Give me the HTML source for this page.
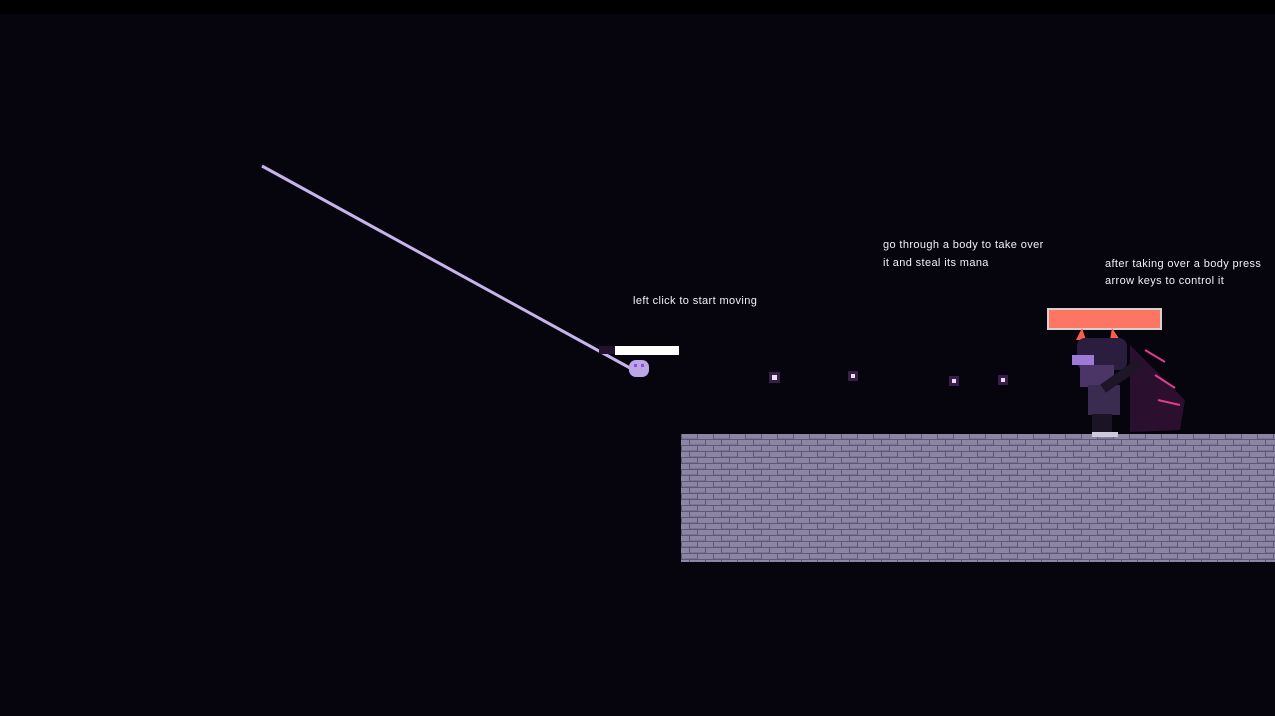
<!DOCTYPE html>
<html><head><meta charset="utf-8"><style>
html,body{margin:0;padding:0;background:#06040d;width:1275px;height:716px;overflow:hidden}
svg{display:block}
text{font-family:"Liberation Sans",sans-serif;font-size:11px;fill:#f2f0f5;letter-spacing:0.38px}
</style></head><body>
<svg width="1275" height="716" xmlns="http://www.w3.org/2000/svg">
<defs>
<pattern id="br" width="32" height="12" patternUnits="userSpaceOnUse" x="681" y="434">
<rect width="32" height="12" fill="#8c86a3"/>
<rect y="5" width="32" height="1" fill="#5e5879"/>
<rect y="11" width="32" height="1" fill="#5e5879"/>
<rect x="0" y="0" width="1" height="5" fill="#5e5879"/>
<rect x="16" y="0" width="1" height="5" fill="#5e5879"/>
<rect x="8" y="6" width="1" height="5" fill="#5e5879"/>
<rect x="24" y="6" width="1" height="5" fill="#5e5879"/>
<rect x="1" y="4" width="15" height="1" fill="#7a7394"/>
<rect x="9" y="10" width="15" height="1" fill="#7a7394"/>
</pattern>
</defs>
<rect width="1275" height="14" fill="#000"/>
<line x1="262" y1="166" x2="630" y2="368" stroke="#c7b5ea" stroke-width="3"/>
<rect x="599" y="346" width="16" height="8" fill="#22122f"/>
<rect x="615" y="346" width="64" height="9" fill="#fff"/>
<rect x="629" y="360" width="20" height="17" rx="7" fill="#bba7e6"/>
<rect x="634" y="364" width="3" height="3" fill="#8a4fd8"/>
<rect x="641" y="364" width="3" height="3" fill="#8a4fd8"/>
<g fill="#3a1e4a"><rect x="769" y="372" width="11" height="11"/><rect x="848" y="371" width="10" height="10"/><rect x="949" y="376" width="10" height="10"/><rect x="998" y="375" width="10" height="10"/></g>
<g fill="#e8e0f0"><rect x="772" y="375" width="5" height="5"/><rect x="851" y="374" width="4" height="4"/><rect x="952" y="379" width="4" height="4"/><rect x="1001" y="378" width="4" height="4"/></g>
<text x="633" y="304">left click to start moving</text>
<text x="883" y="248">go through a body to take over</text>
<text x="883" y="266">it and steal its mana</text>
<text x="1105" y="267">after taking over a body press</text>
<text x="1105" y="284">arrow keys to control it</text>
<rect x="681" y="434" width="594" height="128" fill="url(#br)"/>
<rect x="1048" y="309" width="113" height="20" fill="#ff7563" stroke="#d8d0d0" stroke-width="2"/>
<path d="M1130 345 L1185 400 L1180 430 L1130 432 Z" fill="#2a0f2e"/>
<g stroke="#e03c8c" stroke-width="2" fill="none"><path d="M1145 350 L1165 362"/><path d="M1155 375 L1175 388"/><path d="M1158 400 L1180 405"/></g>
<polygon points="1076,340 1082,328 1086,340" fill="#ff5d4e"/>
<polygon points="1110,340 1112,328 1120,340" fill="#ff5d4e"/>
<rect x="1077" y="338" width="50" height="32" rx="8" fill="#2a1d3e"/>
<rect x="1072" y="355" width="22" height="10" fill="#9d7ad8"/>
<rect x="1080" y="365" width="34" height="22" fill="#4a3566"/>
<rect x="1088" y="385" width="32" height="30" fill="#3a2c50"/>
<rect x="1100" y="372" width="45" height="10" fill="#1e1626" transform="rotate(-35 1120 378)"/>
<rect x="1092" y="414" width="20" height="18" fill="#1a1424"/>
<rect x="1092" y="432" width="26" height="5" fill="#d0c8dc"/>
</svg>
</body></html>
